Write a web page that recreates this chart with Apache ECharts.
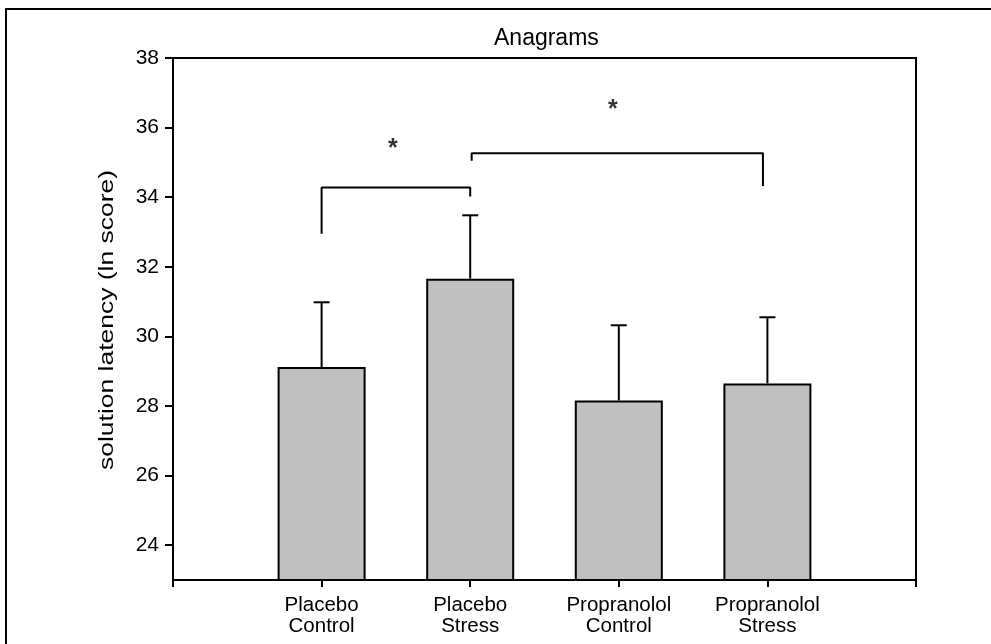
<!DOCTYPE html>
<html>
<head>
<meta charset="utf-8">
<script src="https://cdn.jsdelivr.net/npm/echarts@6/dist/echarts.min.js"></script>
<style>
html,body{margin:0;padding:0;background:#fff;}
#chart{width:991px;height:644px;}
</style>
</head>
<body>
<div id="chart"></div>
<script>
// ---- data ----
const categories = ['Placebo\nControl', 'Placebo\nStress', 'Propranolol\nControl', 'Propranolol\nStress'];
const means = [29.12, 31.66, 28.16, 28.65];
const errors = [1.86, 1.82, 2.16, 1.90];
const yTicks = [24, 26, 28, 30, 32, 34, 36, 38];
const bracket1 = [[1, 32.95], [1, 34.28], [2, 34.28], [2, 34.02]];
const bracket2 = [[2.01, 35.05], [2.01, 35.26], [3.97, 35.26], [3.97, 34.32]];
const stars = [[1.48, 35.52], [2.96, 36.65]];
const yAxisTitle = 'solution latency (ln score)';

const font = 'Liberation Sans, Arial, Helvetica, sans-serif';
const chart = echarts.init(document.getElementById('chart'));

const barData = means.map((m, i) => [i + 1, m]);
const errData = means.map((m, i) => [i + 1, m, m + errors[i]]);

const option = {
  animation: false,
  backgroundColor: '#fff',
  title: {
    text: 'Anagrams',
    left: 489,
    top: 22,
    textStyle: { fontFamily: font, fontSize: 23, fontWeight: 'normal', color: '#000' }
  },
  grid: {
    left: 173, right: 75, top: 58, bottom: 64,
    show: true, borderColor: '#000', borderWidth: 2, backgroundColor: 'transparent'
  },
  xAxis: {
    type: 'value', min: 0, max: 5, interval: 1,
    axisLine: { show: true, lineStyle: { color: '#000', width: 2 } },
    axisTick: { show: true, length: 7, lineStyle: { color: '#000', width: 2 } },
    splitLine: { show: false },
    axisLabel: {
      fontFamily: font, fontSize: 20.5, color: '#000', lineHeight: 21, margin: 15,
      showMinLabel: true, showMaxLabel: true,
      formatter: v => categories[v - 1] || ''
    }
  },
  yAxis: {
    type: 'value', min: 23, max: 38,
    axisLine: { show: true, lineStyle: { color: '#000', width: 2 } },
    axisTick: { show: true, length: 8, customValues: yTicks, lineStyle: { color: '#000', width: 2 } },
    splitLine: { show: false },
    axisLabel: {
      fontFamily: font, fontSize: 21, color: '#000', margin: 14,
      customValues: yTicks
    }
  },
  series: [
    {
      type: 'bar', data: barData, barWidth: 88,
      itemStyle: { color: '#c0c0c0', borderColor: '#000', borderWidth: 2 },
      z: 2
    },
    {
      type: 'custom', data: errData, z: 3,
      renderItem: (params, api) => {
        const x = api.value(0);
        const p0 = api.coord([x, api.value(1)]);
        const p1 = api.coord([x, api.value(2)]);
        const half = 8;
        return {
          type: 'group',
          children: [
            { type: 'line', shape: { x1: p0[0], y1: p0[1], x2: p1[0], y2: p1[1] }, style: { stroke: '#000', lineWidth: 2 } },
            { type: 'line', shape: { x1: p1[0] - half, y1: p1[1], x2: p1[0] + half, y2: p1[1] }, style: { stroke: '#000', lineWidth: 2 } }
          ]
        };
      }
    },
    {
      type: 'line', data: bracket1, symbol: 'none',
      lineStyle: { color: '#000', width: 2 }, z: 3
    },
    {
      type: 'line', data: bracket2, symbol: 'none',
      lineStyle: { color: '#000', width: 2 }, z: 3
    },
    {
      type: 'scatter', data: stars, symbolSize: 1,
      itemStyle: { color: 'transparent' },
      label: {
        show: true, position: 'inside', formatter: '*',
        fontFamily: font, fontSize: 25, fontWeight: 'bold', color: '#000', offset: [0, 5]
      },
      z: 4
    }
  ],
  graphic: [
    {
      type: 'polyline',
      shape: { points: [[6, 700], [6, 9], [1000, 9]] },
      style: { stroke: '#000', lineWidth: 2, fill: null },
      silent: true
    },
    {
      type: 'text',
      x: 107, y: 320,
      rotation: Math.PI / 2,
      scaleX: 1.26, scaleY: 1,
      style: {
        text: yAxisTitle,
        fontFamily: font, fontSize: 21, fill: '#000',
        align: 'center', verticalAlign: 'middle'
      },
      silent: true
    }
  ]
};
chart.setOption(option);
</script>
</body>
</html>
